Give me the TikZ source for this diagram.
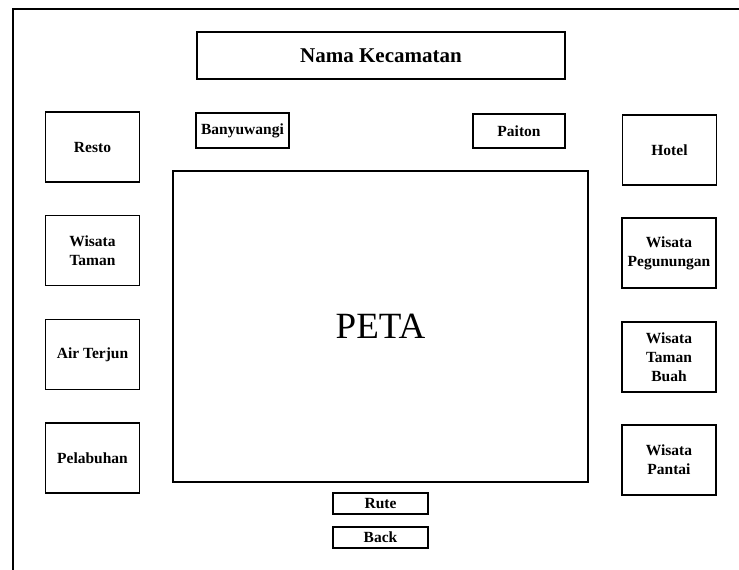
\documentclass[tikz,border=0pt]{standalone}
\usepackage{fontspec}
\setmainfont{Liberation Serif}

\begin{document}
\begin{tikzpicture}[%
      x=1pt, y=-1pt,
      kotak/.style={draw, line width=1.2pt, align=center, inner sep=0pt,
        font=\bfseries\fontsize{15.5}{19}\selectfont},
      menu/.style={kotak, minimum width=94pt, minimum height=70pt},
      tombol/.style={kotak, minimum width=95pt, minimum height=21pt},
      ]
      \useasboundingbox (0,0) rectangle (739,570);
      \draw [line width=1.2pt] (739,9) -- (13,9) -- (13,570);

      \node [kotak, minimum width=368pt, minimum height=47pt,
        font=\bfseries\fontsize{21}{24}\selectfont] (judul) at (381,55.5) {Nama Kecamatan};

      \node [menu] (resto) at (92.5,147) {Resto};
      \node [menu] (taman) at (92.5,250.5) {Wisata\\Taman};
      \node [menu] (terjun) at (92.5,354.5) {Air Terjun};
      \node [menu] (pelabuhan) at (92.5,458) {Pelabuhan};

      \node [menu] (hotel) at (669.5,150) {Hotel};
      \node [menu] (gunung) at (669,253) {Wisata\\Pegunungan};
      \node [menu] (buah) at (669,357) {Wisata\\Taman\\Buah};
      \node [menu] (pantai) at (669,460) {Wisata\\Pantai};

      \node [kotak, minimum width=93pt, minimum height=35pt] (banyuwangi) at (242.5,130.5) {Banyuwangi};
      \node [kotak, minimum width=92pt, minimum height=34pt] (paiton) at (519,131) {Paiton};

      \node [kotak, minimum width=415pt, minimum height=311pt,
        font=\fontsize{37}{40}\selectfont] (peta) at (380.5,326.5) {PETA};

      \node [tombol] (rute) at (380.5,503.5) {Rute};
      \node [tombol] (back) at (380.5,537.5) {Back};
      \end{tikzpicture}
\end{document}
